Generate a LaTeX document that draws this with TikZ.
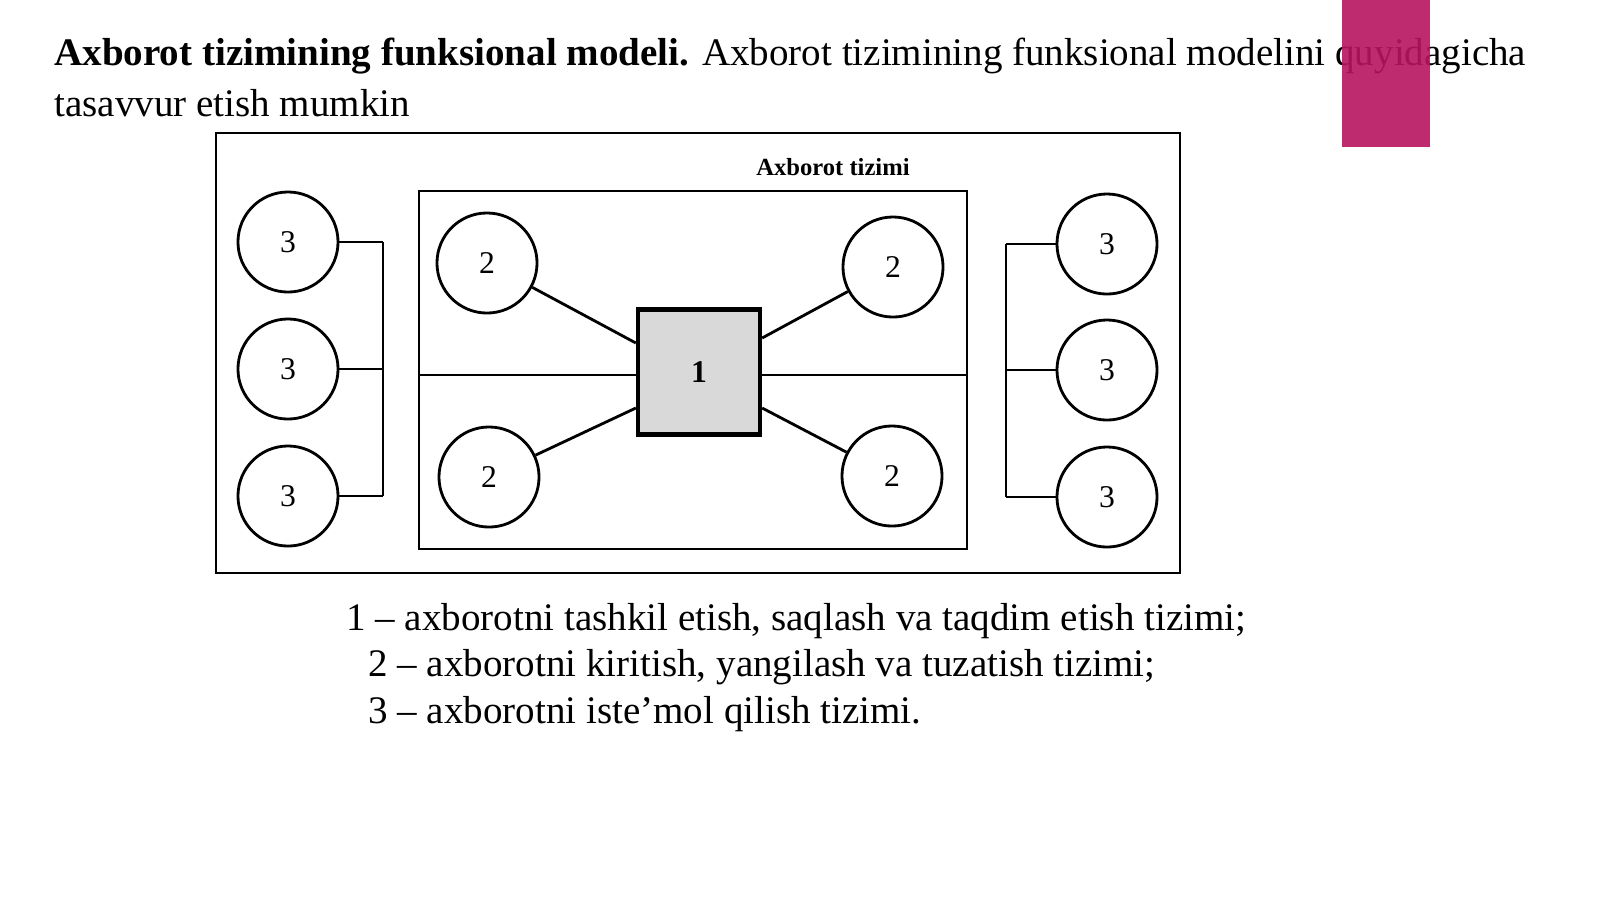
\documentclass[tikz,border=0pt]{standalone}
\usepackage{fontspec}
\setmainfont{Liberation Serif}
\usetikzlibrary{positioning}
\definecolor{accent}{HTML}{B8145F}
\begin{document}
\begin{tikzpicture}[x=0.01cm,y=-0.01cm,thick,
  round node/.style={circle,draw,minimum size=1cm,inner sep=0pt,font=\small},
  core node/.style={draw,line width=1.2pt,fill=gray!30,minimum width=1.22cm,minimum height=1.25cm,inner sep=0pt,font=\small\bfseries},
  body text/.style={anchor=west,inner sep=0pt,font=\fontsize{11.1}{14}\selectfont}]
\useasboundingbox (0,0) rectangle (1600,899);
% heading
\node[body text] (head) at (53,56) {\textbf{Axborot tizimining funksional modeli.} Axborot tizimining funksional modelini quyidagicha};
\node[body text] (head2) at (53,103) {tasavvur etish mumkin};
\fill[accent,opacity=0.9] (1342,0) rectangle (1430,147);
% frames
\draw (216,133) rectangle (1180,573);
\draw (419,191) rectangle (967,549);
\node[font=\scriptsize\bfseries] (sys) at (833,167) {Axborot tizimi};
% centre
\node[core node] (1) at (699,372) {1};
\coordinate (hl) at (419,375);
\coordinate (hr) at (967,375);
\draw (hl) -- (1.west |- hl);
\draw (1.east |- hr) -- (hr);
\node[round node] (2a) at (487,263) {2};
\node[round node] (2b) at (893,267) {2};
\node[round node] (2c) at (489,477) {2};
\node[round node] (2d) at (892,476) {2};
\draw (2a) -- (1.west |- 0,343);
\draw (2b) -- (1.east |- 0,338);
\draw (2c) -- (1.west |- 0,408);
\draw (2d) -- (1.east |- 0,408);
% users
\foreach \n/\y in {a/242,b/369,c/496}{
  \node[round node] (3l\n) at (288,\y) {3};
  \draw (3l\n) -- (383,\y);
}
\draw (383,242) -- (383,496);
\foreach \n/\y in {a/244,b/370,c/497}{
  \node[round node] (3r\n) at (1107,\y) {3};
  \draw (3r\n) -- (1006,\y);
}
\draw (1006,244) -- (1006,497);
% legend
\node[body text] (l1) at (345,621) {1 -- axborotni tashkil etish, saqlash va taqdim etish tizimi;};
\node[body text] (l2) at (367,667) {2 -- axborotni kiritish, yangilash va tuzatish tizimi;};
\node[body text] (l3) at (367,714) {3 -- axborotni iste’mol qilish tizimi.};
\end{tikzpicture}
\end{document}
